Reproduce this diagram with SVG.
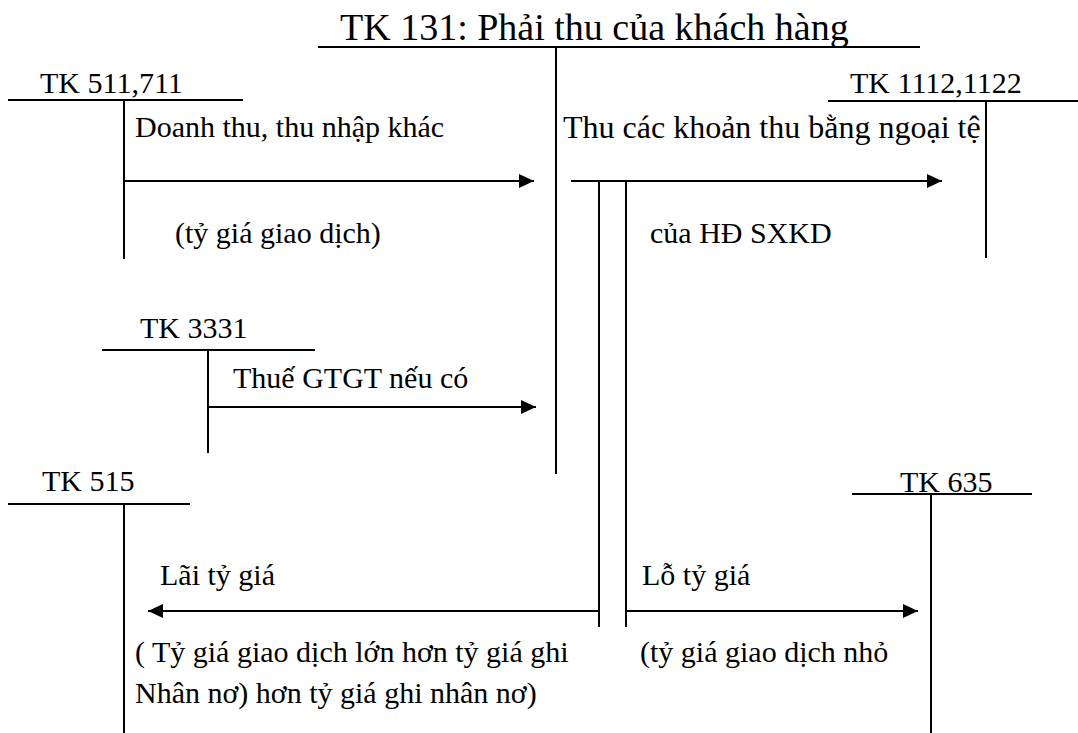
<svg xmlns="http://www.w3.org/2000/svg" width="1078" height="733" viewBox="0 0 1078 733">
  <style>
    .ln { stroke: #000; stroke-width: 2; fill: none; }
    .tx { font-family: "Liberation Serif", "Times New Roman", serif; font-size: 30px; fill: #000; }
    .tt { font-family: "Liberation Serif", "Times New Roman", serif; font-size: 38px; fill: #000; }
  </style>
  <defs>
    <marker id="arr" viewBox="0 0 15 14" refX="15" refY="7" markerWidth="15" markerHeight="14" markerUnits="userSpaceOnUse" orient="auto">
      <path d="M0,0 L15,7 L0,14 Z" fill="#000"/>
    </marker>
  </defs>
  <rect width="1078" height="733" fill="#fff"/>

  <!-- T-accounts -->
  <g id="tk131">
    <text class="tt" x="340" y="40">TK 131: Phải thu của khách hàng</text>
    <line class="ln" x1="318" y1="47" x2="920" y2="47"/>
    <line class="ln" x1="556" y1="47" x2="556" y2="474"/>
  </g>
  <g id="tk511">
    <text class="tx" x="40" y="93">TK 511,711</text>
    <line class="ln" x1="8" y1="100" x2="243" y2="100"/>
    <line class="ln" x1="124" y1="100" x2="124" y2="259"/>
  </g>
  <g id="tk1112">
    <text class="tx" x="850" y="93">TK 1112,1122</text>
    <line class="ln" x1="828" y1="101" x2="1078" y2="101"/>
    <line class="ln" x1="986" y1="101" x2="986" y2="258"/>
  </g>
  <g id="tk3331">
    <text class="tx" x="140" y="338">TK 3331</text>
    <line class="ln" x1="102" y1="350" x2="315" y2="350"/>
    <line class="ln" x1="208" y1="350" x2="208" y2="453"/>
  </g>
  <g id="tk515">
    <text class="tx" x="42" y="491">TK 515</text>
    <line class="ln" x1="8" y1="504" x2="190" y2="504"/>
    <line class="ln" x1="124" y1="504" x2="124" y2="733"/>
  </g>
  <g id="tk635">
    <text class="tx" x="900" y="492">TK 635</text>
    <line class="ln" x1="852" y1="494" x2="1032" y2="494"/>
    <line class="ln" x1="931" y1="494" x2="931" y2="733"/>
  </g>

  <!-- connectors -->
  <g id="connectors">
    <line class="ln" x1="124" y1="181" x2="534" y2="181" marker-end="url(#arr)"/>
    <line class="ln" x1="571" y1="181" x2="942" y2="181" marker-end="url(#arr)"/>
    <line class="ln" x1="599" y1="181" x2="599" y2="627"/>
    <line class="ln" x1="626" y1="181" x2="626" y2="627"/>
    <line class="ln" x1="208" y1="407" x2="536" y2="407" marker-end="url(#arr)"/>
    <line class="ln" x1="599" y1="611" x2="148" y2="611" marker-end="url(#arr)"/>
    <line class="ln" x1="626" y1="611" x2="918" y2="611" marker-end="url(#arr)"/>
  </g>

  <!-- connector labels -->
  <g id="labels">
    <text class="tx" x="135" y="137">Doanh thu, thu nhập khác</text>
    <text class="tx" x="175" y="243">(tỷ giá giao dịch)</text>
    <text class="tx" x="563" y="138" style="font-size:32px">Thu các khoản thu bằng ngoại tệ</text>
    <text class="tx" x="650" y="243">của HĐ SXKD</text>
    <text class="tx" x="233" y="388">Thuế GTGT nếu có</text>
    <text class="tx" x="160" y="585">Lãi tỷ giá</text>
    <text class="tx" x="642" y="585">Lỗ tỷ giá</text>
    <text class="tx" x="135" y="662">( Tỷ giá giao dịch lớn hơn tỷ giá ghi</text>
    <text class="tx" x="640" y="662">(tỷ giá giao dịch nhỏ</text>
    <text class="tx" x="135" y="703">Nhân nơ) hơn tỷ giá ghi nhân nơ)</text>
  </g>
</svg>
